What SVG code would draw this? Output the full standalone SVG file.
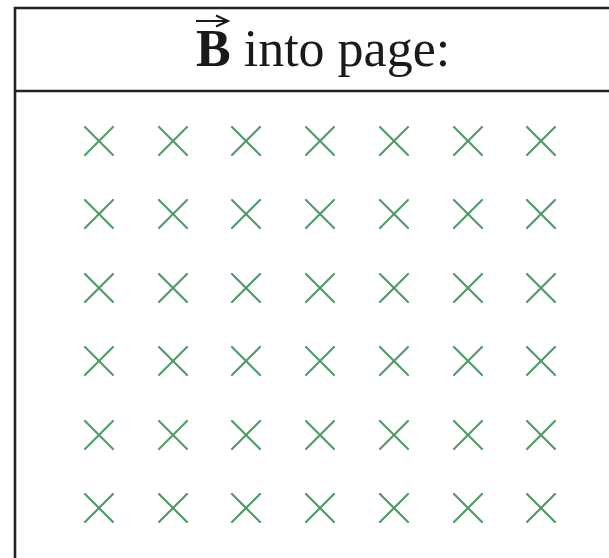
<svg xmlns="http://www.w3.org/2000/svg" width="609" height="558" viewBox="0 0 609 558">
<style>
.frame{stroke:#222;stroke-width:2.6;fill:none}
.x{stroke:#4f9c6a;stroke-width:2.2;stroke-linecap:round}
.t{font-family:"Liberation Serif",serif;font-size:52px;fill:#1a1a1a}
</style>
<defs>
<g id="cross"><line class="x" x1="-14" y1="-14" x2="14" y2="14"/><line class="x" x1="-14" y1="14" x2="14" y2="-14"/></g>
</defs>
<rect width="609" height="558" fill="#fff"/>
<g id="frame">
<path class="frame" d="M15,558 V8 H609"/>
<line class="frame" x1="15" y1="91" x2="609" y2="91" stroke-width="3"/>
</g>
<g id="title">
<text class="t" x="196" y="66"><tspan font-weight="bold">B</tspan> into page:</text>
<line x1="196" y1="21" x2="226" y2="21" stroke="#1a1a1a" stroke-width="2"/>
<path d="M216,15.5 L228,21 L216,26.5" fill="none" stroke="#1a1a1a" stroke-width="2"/>
</g>
<g id="field">
<g transform="translate(0,141)">
<use href="#cross" x="99"/><use href="#cross" x="173"/><use href="#cross" x="246"/><use href="#cross" x="320"/><use href="#cross" x="394"/><use href="#cross" x="468"/><use href="#cross" x="541"/>
</g>
<g transform="translate(0,214)">
<use href="#cross" x="99"/><use href="#cross" x="173"/><use href="#cross" x="246"/><use href="#cross" x="320"/><use href="#cross" x="394"/><use href="#cross" x="468"/><use href="#cross" x="541"/>
</g>
<g transform="translate(0,288)">
<use href="#cross" x="99"/><use href="#cross" x="173"/><use href="#cross" x="246"/><use href="#cross" x="320"/><use href="#cross" x="394"/><use href="#cross" x="468"/><use href="#cross" x="541"/>
</g>
<g transform="translate(0,361)">
<use href="#cross" x="99"/><use href="#cross" x="173"/><use href="#cross" x="246"/><use href="#cross" x="320"/><use href="#cross" x="394"/><use href="#cross" x="468"/><use href="#cross" x="541"/>
</g>
<g transform="translate(0,435)">
<use href="#cross" x="99"/><use href="#cross" x="173"/><use href="#cross" x="246"/><use href="#cross" x="320"/><use href="#cross" x="394"/><use href="#cross" x="468"/><use href="#cross" x="541"/>
</g>
<g transform="translate(0,508)">
<use href="#cross" x="99"/><use href="#cross" x="173"/><use href="#cross" x="246"/><use href="#cross" x="320"/><use href="#cross" x="394"/><use href="#cross" x="468"/><use href="#cross" x="541"/>
</g>
</g>
</svg>
